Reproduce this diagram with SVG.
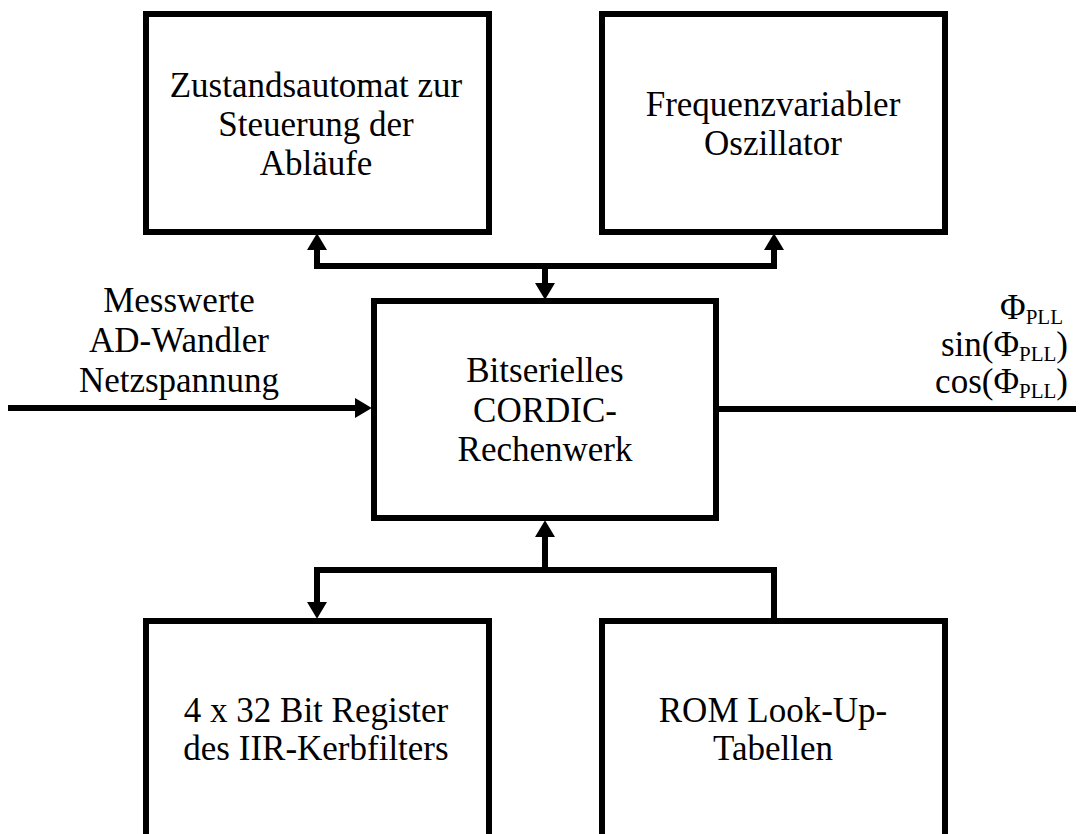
<svg xmlns="http://www.w3.org/2000/svg" width="1082" height="834" viewBox="0 0 1082 834">
  <style>
    .box { fill: #fff; stroke: #000; stroke-width: 6; }
    .wire { fill: none; stroke: #000; stroke-width: 6; stroke-linejoin: miter; }
    .lbl { font-family: "Liberation Serif", "Times New Roman", serif; font-size: 35px; fill: #000; text-anchor: middle; }
    .out { font-family: "Liberation Serif", "Times New Roman", serif; font-size: 35px; fill: #000; text-anchor: end; }
    .sub { font-size: 21px; }
  </style>
  <defs>
    <marker id="head" markerUnits="userSpaceOnUse" markerWidth="17" markerHeight="20" viewBox="0 0 16 19" refX="0" refY="9.5" orient="auto-start-reverse">
      <path d="M0,0 L16,9.5 L0,19 Z" fill="#000"/>
    </marker>
  </defs>
  <rect width="1082" height="834" fill="#fff"/>

  <g id="connectors">
    <!-- upper bus: CORDIC core to state machine and oscillator -->
    <path class="wire" d="M317,250 V266 H774 V250" marker-start="url(#head)" marker-end="url(#head)"/>
    <path class="wire" d="M545,266 V283" marker-end="url(#head)"/>
    <!-- lower bus: register file and ROM to CORDIC core -->
    <path class="wire" d="M545,570 V537" marker-end="url(#head)"/>
    <path class="wire" d="M317,602 V570 H774 V620" marker-start="url(#head)"/>
    <!-- measurement input and outputs -->
    <path class="wire" d="M8,408 H355" marker-end="url(#head)"/>
    <path class="wire" d="M716,409 H1076"/>
  </g>

  <g id="fsm">
    <rect class="box" x="146" y="14" width="343" height="218"/>
    <text class="lbl" x="316" y="97">Zustandsautomat zur</text>
    <text class="lbl" x="316" y="136">Steuerung der</text>
    <text class="lbl" x="316" y="175">Abläufe</text>
  </g>

  <g id="nco">
    <rect class="box" x="602" y="14" width="343" height="218"/>
    <text class="lbl" x="773" y="116">Frequenzvariabler</text>
    <text class="lbl" x="773" y="155">Oszillator</text>
  </g>

  <g id="cordic">
    <rect class="box" x="374" y="301" width="342" height="217"/>
    <text class="lbl" x="545" y="382">Bitserielles</text>
    <text class="lbl" x="545" y="422">CORDIC-</text>
    <text class="lbl" x="545" y="461">Rechenwerk</text>
  </g>

  <g id="registers">
    <rect class="box" x="146" y="621" width="343" height="230"/>
    <text class="lbl" x="316" y="722">4 x 32 Bit Register</text>
    <text class="lbl" x="316" y="760">des IIR-Kerbfilters</text>
  </g>

  <g id="rom">
    <rect class="box" x="602" y="621" width="343" height="230"/>
    <text class="lbl" x="773" y="722">ROM Look-Up-</text>
    <text class="lbl" x="773" y="760">Tabellen</text>
  </g>

  <g id="input-label">
    <text class="lbl" x="179" y="312">Messwerte</text>
    <text class="lbl" x="179" y="352">AD-Wandler</text>
    <text class="lbl" x="179" y="392">Netzspannung</text>
  </g>

  <g id="output-label">
    <text class="out" x="1063" y="319">Φ<tspan class="sub" dy="5">PLL</tspan></text>
    <text class="out" x="1068" y="356">sin(Φ<tspan class="sub" dy="5">PLL</tspan><tspan dy="-5">)</tspan></text>
    <text class="out" x="1068" y="393">cos(Φ<tspan class="sub" dy="5">PLL</tspan><tspan dy="-5">)</tspan></text>
  </g>
</svg>
